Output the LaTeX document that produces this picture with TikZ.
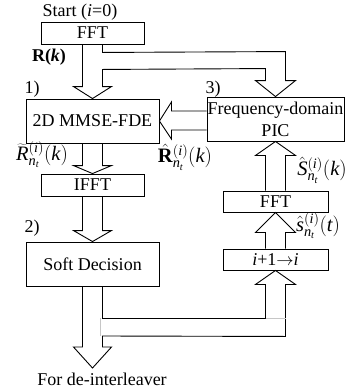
\documentclass[tikz,border=0pt]{standalone}
\usepackage{fontspec}
\setmainfont{Liberation Serif}
\usetikzlibrary{calc}
\begin{document}
\begin{tikzpicture}[x=1pt,y=-1pt,
  every node/.style={font=\fontsize{18}{20}\selectfont, inner sep=0pt},
  box/.style={draw, line width=0.9pt, rectangle, align=center},
  pipe/.style={draw, line width=0.9pt, line join=miter},
  lbl/.style={anchor=center},
  mlbl/.style={anchor=center, font=\fontsize{20.5}{22}\selectfont}]
\useasboundingbox (0,0) rectangle (353,392);
% boxes
\node[box, minimum width=103pt, minimum height=22pt] (fft1) at (92.5,33) {FFT};
\node[box, minimum width=133pt, minimum height=44pt] (mmse) at (92.5,121) {2D MMSE-FDE};
\node[box, minimum width=103pt, minimum height=22pt] (ifft) at (92.5,185) {IFFT};
\node[box, minimum width=133pt, minimum height=44pt] (soft) at (92.5,264) {Soft Decision};
\node[box, minimum width=137pt, minimum height=44pt] (pic) at (275.5,119) {};
\node (pic1) at (275.5,110) {Frequency-domain};
\node (pic2) at (275.5,131) {PIC};
\node[box, minimum width=105pt, minimum height=21pt] (fft2) at (275.5,201.5) {FFT};
\node[box, minimum width=105pt, minimum height=21pt] (inc) at (275.5,259.5) {\textit{i}+1$\rightarrow$\textit{i}};
% labels
\node[lbl] (start) at (80,12) {Start (\textit{i}=0)};
\node[lbl] (rk) at (49,57) {\textbf{R(\textit{k})}};
\node[lbl] (one) at (32,89) {1)};
\node[lbl] (three) at (213,89) {3)};
\node[lbl] (two) at (32,228) {2)};
\node[mlbl] (rt) at (42,155) {$\widetilde{\mathit{R}}^{(\mathit{i})}_{\mathit{n}_{\mathit{t}}}(\mathit{k})$};
\node[mlbl] (rh) at (185,157) {$\hat{\mathbf{R}}^{(\mathit{i})}_{\mathit{n}_{\mathit{t}}}(\mathit{k})$};
\node[mlbl] (sk) at (322,170) {$\hat{\mathit{S}}^{(\mathit{i})}_{\mathit{n}_{\mathit{t}}}(\mathit{k})$};
\node[mlbl] (st) at (318,226) {$\hat{\mathit{s}}^{(\mathit{i})}_{\mathit{n}_{\mathit{t}}}(\mathit{t})$};
\node[lbl] (deint) at (102,379) {For de-interleaver};
\coordinate (outtip) at (92.5,368);
% arrow A: fft1 -> mmse, branch -> pic
\draw[pipe] ($(fft1.south)+(-10,0)$) -- ($(mmse.north)+(-10,-12)$) -- ($(mmse.north)+(-19,-12)$)
  -- (mmse.north) -- ($(mmse.north)+(19,-12)$) -- ($(mmse.north)+(10,-12)$)
  -- ($(fft1.south)+(10,25)$) -- ($(pic.north)+(-10,-28)$) -- ($(pic.north)+(-10,-16)$)
  -- ($(pic.north)+(-20,-16)$) -- (pic.north) -- ($(pic.north)+(20,-16)$)
  -- ($(pic.north)+(10,-16)$) -- ($(pic.north)+(10,-45)$) -- ($(fft1.south)+(10,8)$)
  -- ($(fft1.south)+(10,0)$);
% arrow B: pic -> mmse
\draw[pipe] ($(pic.west)+(0,-8)$) -- ($(mmse.east)+(12,-10)$) -- ($(mmse.east)+(12,-19)$)
  -- (mmse.east) -- ($(mmse.east)+(12,18)$) -- ($(mmse.east)+(12,9)$) -- ($(pic.west)+(0,11)$);
% arrow C: mmse -> ifft
\draw[pipe] ($(mmse.south)+(-10,0)$) -- ($(ifft.north)+(-10,-8)$) -- ($(ifft.north)+(-19,-8)$)
  -- (ifft.north) -- ($(ifft.north)+(19,-8)$) -- ($(ifft.north)+(10,-8)$) -- ($(mmse.south)+(10,0)$);
% arrow D: ifft -> soft
\draw[pipe] ($(ifft.south)+(-10,0)$) -- ($(soft.north)+(-10,-11)$) -- ($(soft.north)+(-19,-11)$)
  -- (soft.north) -- ($(soft.north)+(19,-11)$) -- ($(soft.north)+(10,-11)$) -- ($(ifft.south)+(10,0)$);
% arrow E: soft -> out, branch -> inc
\draw[pipe] ($(soft.south)+(-10,0)$) -- ($(outtip)+(-10,-21)$) -- ($(outtip)+(-19,-21)$)
  -- (outtip) -- ($(outtip)+(19,-21)$) -- ($(outtip)+(10,-21)$) -- ($(outtip)+(10,-32)$)
  -- ($(inc.south)+(10,66)$) -- ($(inc.south)+(10,14)$) -- ($(inc.south)+(20,14)$)
  -- (inc.south) -- ($(inc.south)+(-20,14)$) -- ($(inc.south)+(-10,14)$)
  -- ($(inc.south)+(-10,48)$) -- ($(soft.south)+(10,32)$) -- ($(soft.south)+(10,0)$);
\draw[gray!45, line width=0.8pt] ($(soft.south)+(8,32)$) -- ($(soft.south)+(8,50)$);
\draw[gray!45, line width=0.8pt] ($(inc.south)+(-10,48)$) -- ($(inc.south)+(10,48)$);
% arrow F: inc -> fft2
\draw[pipe] ($(inc.north)+(-10,0)$) -- ($(fft2.south)+(-10,20)$) -- ($(fft2.south)+(-20,20)$)
  -- (fft2.south) -- ($(fft2.south)+(20,20)$) -- ($(fft2.south)+(10,20)$) -- ($(inc.north)+(10,0)$);
% arrow G: fft2 -> pic
\draw[pipe] ($(fft2.north)+(-10,0)$) -- ($(pic.south)+(-10,14)$) -- ($(pic.south)+(-20,14)$)
  -- (pic.south) -- ($(pic.south)+(20,14)$) -- ($(pic.south)+(10,14)$) -- ($(fft2.north)+(10,0)$);
\end{tikzpicture}
\end{document}
